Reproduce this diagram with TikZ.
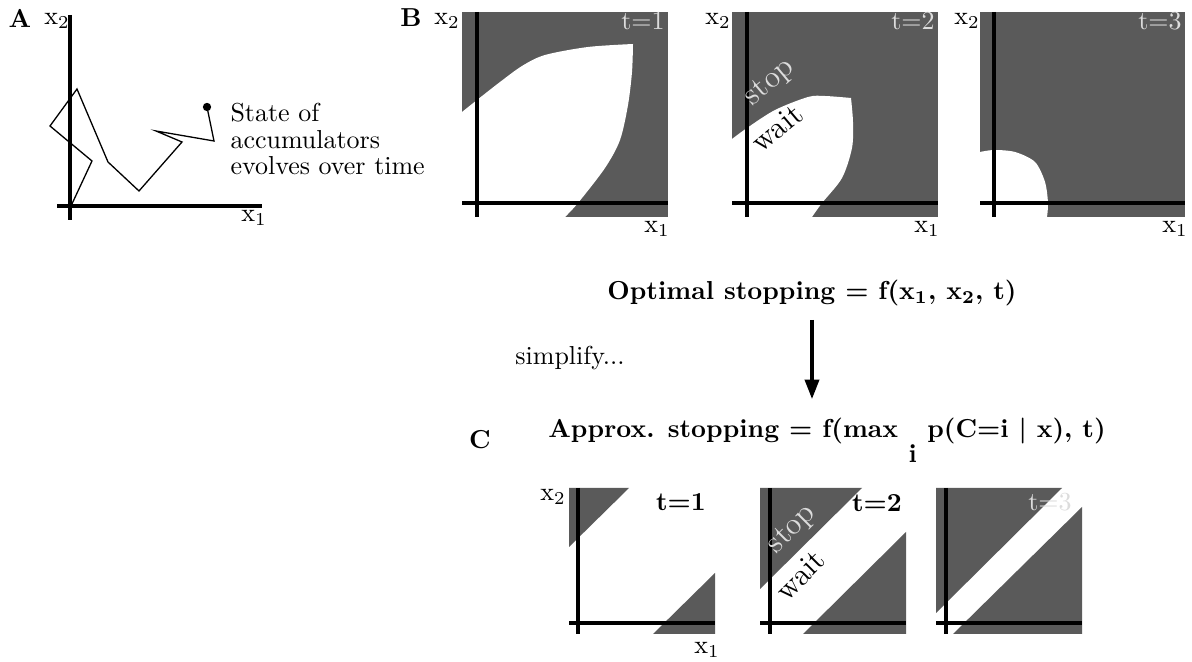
\documentclass[tikz,border=0pt]{standalone}
\definecolor{regiongray}{HTML}{5A5A5A}
\definecolor{lightlabel}{HTML}{DCDCDC}
\usepackage{tikz, amsmath, bm}
\usetikzlibrary{arrows.meta, positioning}

\begin{document}
\begin{tikzpicture}[x=0.385pt, y=-0.385pt,
   axis/.style={line width=1.2pt},
   region/.style={fill=regiongray},
   panel/.style={font=\bfseries},
   tlight/.style={text=lightlabel},
   tbold/.style={font=\bfseries},
   slanted/.style={inner sep=0pt, font=\large}]
   \useasboundingbox (0,0) rectangle (1192,662);
   % ---------- A: random walk ----------
   \node[panel] (labA) at (20,18) {A};
   \draw[axis] (70,15) -- (70,220);
   \draw[axis] (57,206) -- (262,206);
   \node (A-x2) at (57,21) {x$_2$};
   \node (A-x1) at (254,218) {x$_1$};
   \draw[line width=0.5pt] (71,206) -- (92,161) -- (50,126) -- (77,89) -- (108,162)
      -- (139,191) -- (182,142) -- (156,131) -- (214,141) -- (207,107);
   \fill (207,107) circle (1.6pt);
   \node[anchor=north west, align=left, font=\fontsize{10}{10.1}\selectfont, inner sep=0pt]
      (A-text) at (230,103) {State of\\accumulators\\evolves over time};
   % ---------- B: optimal stopping regions ----------
   \node[panel] (labB) at (411,18) {B};
   % t=1
   \fill[region] (462,12) rectangle (668,217);
   \fill[white] plot[smooth] coordinates {(462,112) (477,100) (500,82) (522,66) (545,55) (588,47) (633,44)}
      -- plot[smooth] coordinates {(633,44) (632,72) (628,105) (620,140) (605,168) (578,203) (565,217)}
      -- (462,217) -- cycle;
   \draw[axis] (477,12) -- (477,217);
   \draw[axis] (462,203) -- (668,203);
   \node (B1-x2) at (447,21) {x$_2$};
   \node (B1-x1) at (657,229) {x$_1$};
   \node[tlight] (B1-t) at (643,21) {t=1};
   % t=2
   \fill[region] (732,12) rectangle (938,217);
   \fill[white] plot[smooth] coordinates {(732,139) (747,128) (775,110) (808,97) (825,96) (851,98)}
      -- plot[smooth] coordinates {(851,98) (853,122) (852,148) (842,178) (822,203) (812,217)}
      -- (732,217) -- cycle;
   \draw[axis] (747,12) -- (747,217);
   \draw[axis] (732,203) -- (938,203);
   \node (B2-x2) at (718,21) {x$_2$};
   \node (B2-x1) at (927,229) {x$_1$};
   \node[tlight] (B2-t) at (913,21) {t=2};
   \node[tlight, slanted, rotate=40] (B2-stop) at (770,83) {stop};
   \node[slanted, rotate=40] (B2-wait) at (777,128) {wait};
   % t=3
   \fill[region] (980,12) rectangle (1185,217);
   \fill[white] plot[smooth] coordinates {(980,152) (994,150) (1015,152) (1035,162) (1045,182) (1048,203) (1047,217)}
      -- (980,217) -- cycle;
   \draw[axis] (994,12) -- (994,217);
   \draw[axis] (980,203) -- (1185,203);
   \node (B3-x2) at (967,21) {x$_2$};
   \node (B3-x1) at (1175,229) {x$_1$};
   \node[tlight] (B3-t) at (1160,21) {t=3};
   % ---------- simplification ----------
   \node[font=\bfseries] (optTitle) at (812,293) {Optimal stopping $\bm{=}$ f(x$_{\bm{1}}$, x$_{\bm{2}}$, t)};
   \coordinate (arrTop) at (812,320);
   \coordinate (arrBot) at (812,399);
   \draw[-{Triangle[length=7.5pt, width=5.5pt]}, line width=1.2pt] (arrTop) -- (arrBot);
   \node (simplify) at (570,358) {simplify...};
   % ---------- C: approximate stopping ----------
   \node[panel] (labC) at (480,440) {C};
   \node[font=\bfseries] (approxTitle) at (827,440)
      {Approx. stopping $\bm{=}$ f(max\hspace{4pt}\raisebox{-9.5pt}{i}\hspace{4pt}p(C$\bm{=}$i $\bm{\vert}$ x), t)};
   % t=1
   \fill[region] (569,488) -- (629,488) -- (569,547) -- cycle;
   \fill[region] (715,573) -- (715,634) -- (653,634) -- cycle;
   \draw[axis] (578,488) -- (578,634);
   \draw[axis] (569,623) -- (715,623);
   \node (C1-x2) at (553,497) {x$_2$};
   \node (C1-x1) at (707,650) {x$_1$};
   \node[tbold] (C1-t) at (681,502) {t=1};
   % t=2
   \fill[region] (760,488) -- (862,488) -- (760,589) -- cycle;
   \fill[region] (906,532) -- (906,634) -- (803,634) -- cycle;
   \draw[axis] (770,488) -- (770,634);
   \draw[axis] (760,623) -- (906,623);
   \node[tbold] (C2-t) at (877,503) {t=2};
   \node[tlight, slanted, rotate=45] (C2-stop) at (792,530) {stop};
   \node[slanted, rotate=45] (C2-wait) at (800,575) {wait};
   % t=3
   \fill[region] (936,488) -- (1062,488) -- (936,613) -- cycle;
   \fill[region] (1082,507) -- (1082,634) -- (953,634) -- cycle;
   \draw[axis] (946,488) -- (946,634);
   \draw[axis] (936,623) -- (1082,623);
   \node[tlight] (C3-t) at (1050,502) {t=3};
\end{tikzpicture}
\end{document}
